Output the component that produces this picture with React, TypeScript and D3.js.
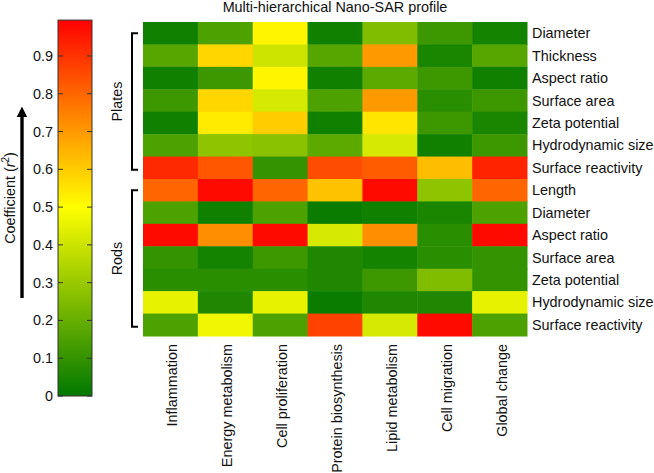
import React from "react";
import * as d3 from "d3";

const title = "Multi-hierarchical Nano-SAR profile";
const columns = [
  "Inflammation",
  "Energy metabolism",
  "Cell proliferation",
  "Protein biosynthesis",
  "Lipid metabolism",
  "Cell migration",
  "Global change",
];
const rows = [
  "Diameter",
  "Thickness",
  "Aspect ratio",
  "Surface area",
  "Zeta potential",
  "Hydrodynamic size",
  "Surface reactivity",
  "Length",
  "Diameter",
  "Aspect ratio",
  "Surface area",
  "Zeta potential",
  "Hydrodynamic size",
  "Surface reactivity",
];
const values: number[][] = [
  [0.03, 0.15, 0.52, 0.03, 0.25, 0.12, 0.04],
  [0.17, 0.58, 0.4, 0.17, 0.7, 0.05, 0.17],
  [0.03, 0.12, 0.52, 0.03, 0.18, 0.12, 0.03],
  [0.12, 0.58, 0.42, 0.15, 0.7, 0.08, 0.12],
  [0.03, 0.54, 0.6, 0.03, 0.55, 0.12, 0.05],
  [0.15, 0.28, 0.27, 0.18, 0.42, 0.03, 0.12],
  [0.92, 0.83, 0.1, 0.85, 0.82, 0.63, 0.93],
  [0.8, 0.98, 0.8, 0.62, 0.98, 0.28, 0.8],
  [0.15, 0.03, 0.15, 0.02, 0.03, 0.05, 0.15],
  [0.98, 0.72, 0.98, 0.42, 0.72, 0.08, 0.98],
  [0.1, 0.04, 0.12, 0.06, 0.04, 0.08, 0.1],
  [0.08, 0.08, 0.08, 0.06, 0.12, 0.25, 0.1],
  [0.45, 0.06, 0.45, 0.02, 0.06, 0.06, 0.45],
  [0.15, 0.47, 0.15, 0.87, 0.42, 0.98, 0.15],
];
const groups = [
  { name: "Plates", first: 0, last: 6 },
  { name: "Rods", first: 7, last: 13 },
];
const colorTicks = [0, 0.1, 0.2, 0.3, 0.4, 0.5, 0.6, 0.7, 0.8, 0.9];
const colorbarMax = 0.995;

const FONT = "'Liberation Sans', Arial, Helvetica, sans-serif";
const FS = 14.4;

export default function App() {
  const W = 654;
  const H = 473;
  const x = d3.scaleBand<string>().domain(columns.map((_, i) => String(i))).range([143, 527]);
  const y = d3.scaleBand<string>().domain(rows.map((_, i) => String(i))).range([22, 336]);
  const color = d3
    .scaleLinear<string>()
    .domain([0, 0.5, 1])
    .range(["#007800", "#ffff00", "#ff0000"])
    .interpolate(d3.interpolateRgb);
  const cy = d3.scaleLinear().domain([0, 1]).range([396, 18.2]);
  const cbX = 58;
  const cbW = 34;
  const gradStops = d3.range(0, 1.0001, 0.05);

  return (
    <svg width={W} height={H} style={{ position: "absolute", left: 0, top: 0 }} fontFamily={FONT}>
      <defs>
        <linearGradient id="cbgrad" x1="0" y1="1" x2="0" y2="0">
          {gradStops.map((s) => (
            <stop key={s} offset={`${(s / colorbarMax) * 100}%`} stopColor={color(s)} />
          ))}
        </linearGradient>
        <marker id="arrowhead" viewBox="0 0 10 10" refX="5" refY="5" markerWidth="3.2" markerHeight="4" orient="auto">
          <path d="M0,0 L10,5 L0,10 z" fill="#000" />
        </marker>
      </defs>

      {/* Title */}
      <text x={(143 + 527) / 2} y={12} textAnchor="middle" fontSize={FS} fill="#111">
        {title}
      </text>

      {/* Heatmap */}
      <g>
        {values.map((row, ri) =>
          row.map((v, ci) => (
            <rect
              key={`${ri}-${ci}`}
              x={x(String(ci))}
              y={y(String(ri))}
              width={x.bandwidth() + 0.5}
              height={y.bandwidth() + 0.5}
              fill={color(v)}
            />
          ))
        )}
      </g>

      {/* Row labels */}
      {rows.map((r, i) => (
        <text
          key={i}
          x={532}
          y={(y(String(i)) as number) + y.bandwidth() / 2}
          dominantBaseline="central"
          fontSize={FS}
          fill="#111"
        >
          {r}
        </text>
      ))}

      {/* Column labels */}
      {columns.map((c, i) => {
        const cx = (x(String(i)) as number) + x.bandwidth() / 2 + 2;
        return (
          <text
            key={i}
            transform={`translate(${cx},344) rotate(-90)`}
            textAnchor="end"
            dominantBaseline="central"
            fontSize={FS}
            fill="#111"
          >
            {c}
          </text>
        );
      })}

      {/* Group brackets */}
      {groups.map((g) => {
        const top = (y(String(g.first)) as number) + y.bandwidth() / 2;
        const bot = (y(String(g.last)) as number) + y.bandwidth() / 2 + 2;
        const bx = 132;
        return (
          <g key={g.name}>
            <path
              d={`M${bx + 6},${top} H${bx} V${bot} H${bx + 6}`}
              fill="none"
              stroke="#000"
              strokeWidth={2}
            />
            <text
              transform={`translate(117,${(top + bot) / 2}) rotate(-90)`}
              textAnchor="middle"
              dominantBaseline="central"
              fontSize={FS}
              fill="#111"
            >
              {g.name}
            </text>
          </g>
        );
      })}

      {/* Colorbar */}
      <rect x={cbX} y={cy(colorbarMax)} width={cbW} height={cy(0) - cy(colorbarMax)} fill="url(#cbgrad)" stroke="#333" strokeWidth={1} />
      {colorTicks.map((t) => (
        <g key={t}>
          <line x1={cbX} x2={cbX + 5} y1={cy(t)} y2={cy(t)} stroke="#333" strokeWidth={1} />
          <line x1={cbX + cbW - 5} x2={cbX + cbW} y1={cy(t)} y2={cy(t)} stroke="#333" strokeWidth={1} />
          <text x={cbX - 5} y={cy(t)} textAnchor="end" dominantBaseline="central" fontSize={FS} fill="#111">
            {t === 0 ? "0" : t.toFixed(1)}
          </text>
        </g>
      ))}

      {/* Arrow */}
      <line x1={22} x2={22} y1={298} y2={112} stroke="#000" strokeWidth={3.4} markerEnd="url(#arrowhead)" />

      {/* Colorbar label */}
      <text
        transform={`translate(10,${198}) rotate(-90)`}
        textAnchor="middle"
        dominantBaseline="central"
        fontSize={FS}
        fill="#111"
      >
        Coefficient (<tspan fontStyle="italic">r</tspan>
        <tspan fontSize={10} dy={-5}>2</tspan>
        <tspan dy={5}>)</tspan>
      </text>
    </svg>
  );
}
